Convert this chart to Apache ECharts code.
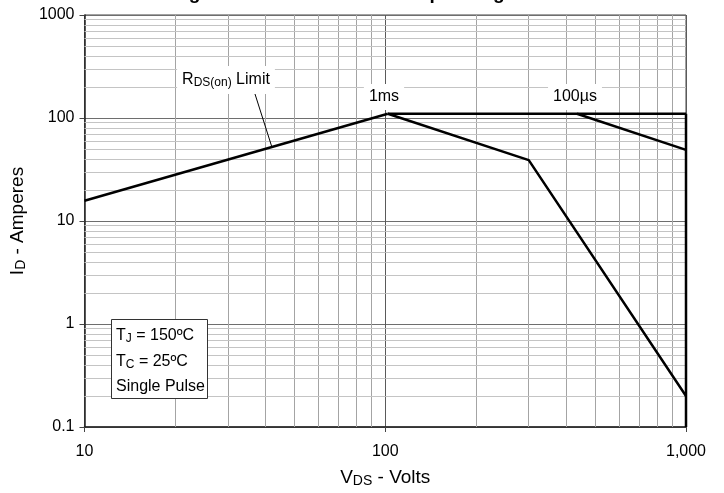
<!DOCTYPE html>
<html><head><meta charset="utf-8">
<script src="https://cdn.jsdelivr.net/npm/echarts@6/dist/echarts.min.js"></script>
<style>html,body{margin:0;padding:0;background:#fff}#c{width:724px;height:493px}</style>
</head><body><div id="c"></div>
<script>
// ---- data ----
const xTicks = [10, 100, 1000];
const yTicks = [0.1, 1, 10, 100, 1000];
const rdsLimit = [[10, 15.7], [102, 110]];
const currentLimit = [[102, 110], [1000, 110]];
const pulse1ms = [[102, 110], [300, 39], [1000, 0.2]];
const pulse100us = [[434, 110], [1000, 49]];
const voltageLimit = [[1000, 110], [1000, 0.1]];
const leader = [[36.6, 184], [42, 52]];
const titleText = 'Fig. 12. Forward-Bias Safe Operating Area';

const FONT = '"Liberation Sans", Arial, sans-serif';
const minorX = [], minorY = [];
[10, 100].forEach(d => { for (let k = 2; k <= 9; k++) minorX.push(k * d); });
[0.1, 1, 10, 100].forEach(d => { for (let k = 2; k <= 9; k++) minorY.push(+(k * d).toFixed(4)); });

const chart = echarts.init(document.getElementById('c'));
const lineStyle = { color: '#000', width: 2.5 };
function curve(data) {
  return { type: 'line', data, symbol: 'none', lineStyle, z: 5, silent: true };
}
const subRich = (n, s, pad) => ({
  n: { fontSize: n, color: '#000', fill: '#000', fontFamily: FONT },
  s: { fontSize: s, color: '#000', fill: '#000', fontFamily: FONT, padding: [pad, 0, 0, 0] }
});
chart.setOption({
  animation: false,
  textStyle: { fontFamily: FONT },
  grid: { left: 82, right: 38, top: 15, bottom: 64, show: true, borderColor: '#444', borderWidth: 1 },
  xAxis: {
    type: 'log', logBase: 10, min: 10, max: 1000,
    axisLine: { lineStyle: { color: '#222', width: 1.5 } },
    axisTick: { show: true, length: 5, lineStyle: { color: '#444' } },
    axisLabel: { color: '#000', fontSize: 16, fontFamily: FONT, margin: 17,
      formatter: v => v >= 1000 ? v.toLocaleString('en-US') : String(v) },
    splitLine: { show: true, lineStyle: { color: '#5a5a5a', width: 1 } },
    name: '{n|V}{s|DS}{n| - Volts}', nameLocation: 'middle', nameGap: 40,
    nameTextStyle: { rich: subRich(19, 14, 7) }
  },
  yAxis: {
    type: 'log', logBase: 10, min: 0.1, max: 1000,
    axisLine: { lineStyle: { color: '#222', width: 1.5 } },
    axisTick: { show: true, length: 5, lineStyle: { color: '#444' } },
    axisLabel: { color: '#000', fontSize: 16, fontFamily: FONT, margin: 10,
      formatter: v => String(+v.toFixed(4)) },
    splitLine: { show: true, lineStyle: { color: '#6e6e6e', width: 1 } },
    name: '{n|I}{s|D}{n| - Amperes}', nameLocation: 'middle', nameGap: 48,
    nameTextStyle: { rich: subRich(19, 14, 7) }
  },
  series: [
    { type: 'line', data: [], silent: true, z: 1,
      markLine: { silent: true, symbol: 'none', label: { show: false }, animation: false,
        lineStyle: { color: '#a4a4a4', width: 1, type: 'solid' },
        data: minorX.map(v => ({ xAxis: v })) } },
    { type: 'line', data: [], silent: true, z: 1,
      markLine: { silent: true, symbol: 'none', label: { show: false }, animation: false,
        lineStyle: { color: '#c4c4c4', width: 1, type: 'solid' },
        data: minorY.map(v => ({ yAxis: v })) } },
    curve(rdsLimit), curve(currentLimit), curve(pulse1ms), curve(pulse100us), curve(voltageLimit),
    { type: 'line', data: leader, symbol: 'none', lineStyle: { color: '#000', width: 1 }, z: 6, silent: true }
  ],
  graphic: [
    { type: 'text', left: 'center', top: -16, z: 10,
      style: { text: titleText, font: 'bold 19px ' + FONT, fill: '#000' } },
    { type: 'text', x: 226, y: 80, z: 10,
      style: { text: '{n|R}{s|DS(on)}{n| Limit}', align: 'center', verticalAlign: 'middle',
        backgroundColor: '#fff', padding: [5, 5, 5, 5], rich: subRich(16, 12, 6) } },
    { type: 'text', x: 384, y: 97, z: 10,
      style: { text: '1ms', align: 'center', verticalAlign: 'middle', font: '16px ' + FONT, fill: '#000',
        backgroundColor: '#fff', padding: [5, 5, 5, 5] } },
    { type: 'text', x: 575, y: 97, z: 10,
      style: { text: '100µs', align: 'center', verticalAlign: 'middle', font: '16px ' + FONT, fill: '#000',
        backgroundColor: '#fff', padding: [5, 5, 5, 5] } },
    { type: 'rect', shape: { x: 111.5, y: 319.5, width: 96, height: 79 }, z: 10,
      style: { fill: '#fff', stroke: '#333', lineWidth: 1 } },
    { type: 'text', x: 116, y: 336, z: 11,
      style: { text: '{n|T}{s|J}{n| = 150ºC}', verticalAlign: 'middle', rich: subRich(16, 12, 6) } },
    { type: 'text', x: 116, y: 362, z: 11,
      style: { text: '{n|T}{s|C}{n| = 25ºC}', verticalAlign: 'middle', rich: subRich(16, 12, 6) } },
    { type: 'text', x: 116, y: 387, z: 11,
      style: { text: 'Single Pulse', verticalAlign: 'middle', font: '16px ' + FONT, fill: '#000' } }
  ]
});
</script></body></html>
